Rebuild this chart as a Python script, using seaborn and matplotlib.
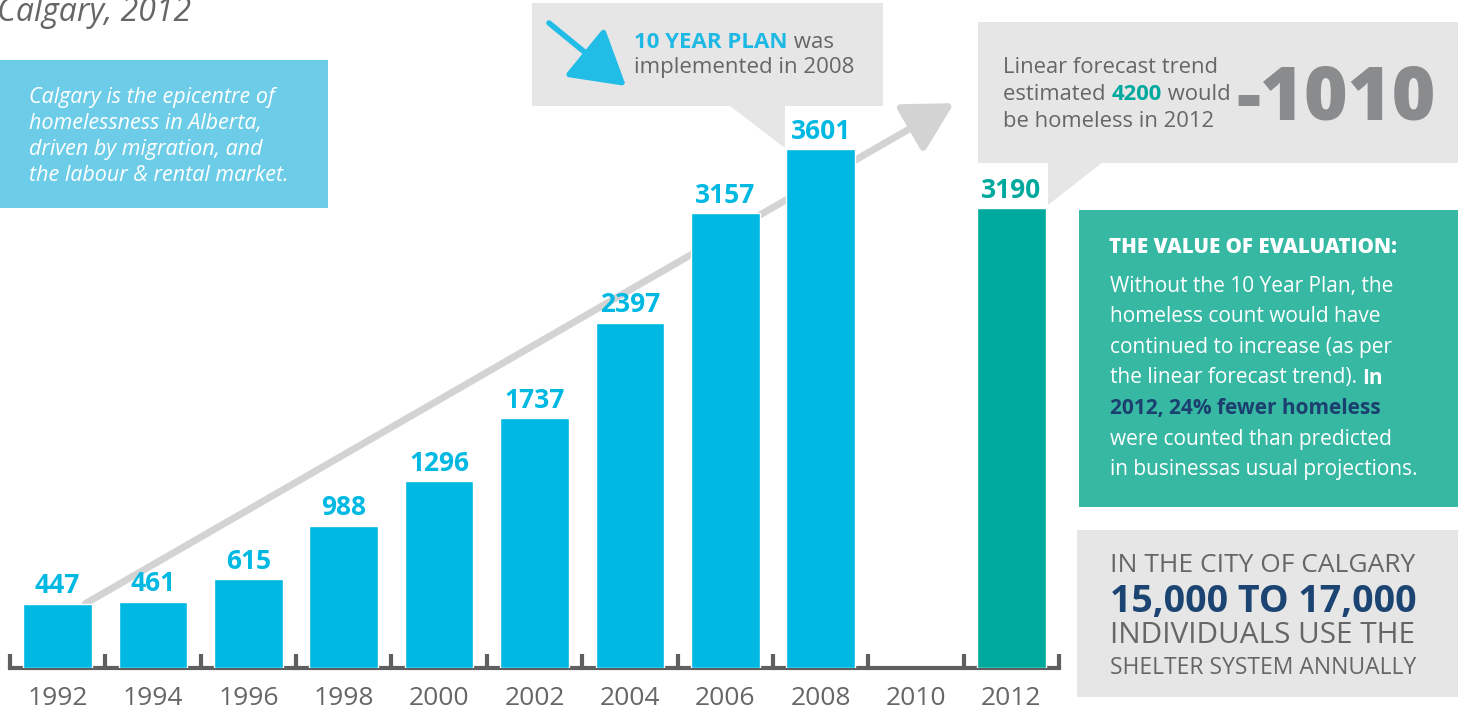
import numpy as np
import pandas as pd
import matplotlib.pyplot as plt
from matplotlib.patches import Rectangle, Polygon
import seaborn as sns

# Homeless counts, Calgary (2010: no count)
years = ['1992', '1994', '1996', '1998', '2000', '2002', '2004', '2006', '2008', '2010', '2012']
counts = [447, 461, 615, 988, 1296, 1737, 2397, 3157, 3601, None, 3190]
periods = ['before plan'] * 9 + [None, 'after plan']

# linear forecast trend arrow (x position on the year axis, count)
trend_start = (0.29, 447)
trend_end = (9.40, 3920)

BLUE = '#00B9E3'
TEAL = '#00A99D'
GREY_TXT = '#666666'
BOX_GREY = '#E6E6E6'
NAVY = '#1B4472'

sns.set_theme(style='white')
plt.rcParams['font.family'] = ['Open Sans', 'DejaVu Sans']

df = pd.DataFrame({'year': years, 'count': counts, 'period': periods}).dropna()

fig = plt.figure(figsize=(14.63, 7.11), dpi=100)
W, H = 1463, 711

# overlay in pixel coordinates for the text boxes
over = fig.add_axes([0, 0, 1, 1], zorder=0)
over.set_xlim(0, W)
over.set_ylim(H, 0)
over.axis('off')

ax = fig.add_axes([10 / W, 43 / H, 1049 / W, 668 / H], zorder=1)
ax.patch.set_alpha(0)

sns.barplot(data=df, x='year', y='count', order=years, hue='period',
            hue_order=['before plan', 'after plan'],
            palette={'before plan': BLUE, 'after plan': TEAL},
            dodge=False, width=0.72, saturation=1, legend=False, ax=ax, zorder=3)

for cont, col in zip(ax.containers, [BLUE, TEAL]):
    ax.bar_label(cont, fmt='%d', padding=3, fontsize=19, fontweight='bold', color=col, zorder=5)

# trend arrow behind the bars
ax.annotate('', xy=trend_end, xytext=trend_start,
            arrowprops=dict(arrowstyle='-|>,head_length=1.0,head_width=0.55',
                            mutation_scale=30, lw=5, color='#D3D3D3',
                            shrinkA=0, shrinkB=0), zorder=1)

ax.set_xlim(-0.5, 10.5)
ax.set_ylim(0, 4636)
ax.set_xlabel('')
ax.set_ylabel('')
ax.set_yticks([])
sns.despine(ax=ax, left=True)
ax.spines['bottom'].set_linewidth(3)
ax.spines['bottom'].set_color('#5F5F61')
ax.set_xticks(np.arange(-0.5, 11, 1), minor=True)
ax.tick_params(axis='x', which='minor', direction='in', length=10, width=3,
               color='#5F5F61', bottom=True)
ax.tick_params(axis='x', which='major', length=0, pad=13, labelsize=19,
               labelcolor=GREY_TXT)

renderer = fig.canvas.get_renderer()


def rich_line(x, y, parts, size):
    for s, weight, color in parts:
        t = over.text(x, y, s, fontsize=size, fontweight=weight, color=color,
                      va='baseline', ha='left')
        x += t.get_window_extent(renderer=renderer).width


# title (cut at top, as in the original)
over.text(-3, 21, 'Calgary, 2012', fontsize=23, style='italic', color=GREY_TXT,
          va='baseline', ha='left')

# left blue box
over.add_patch(Rectangle((0, 60), 328, 148, color='#6DCDE8', lw=0))
left_lines = ['Calgary is the epicentre of', 'homelessness in Alberta,',
              'driven by migration, and', 'the labour & rental market.']
for i, s in enumerate(left_lines):
    over.text(29, 103 + i * 26, s, fontsize=15.5, style='italic', color='white',
              va='baseline', ha='left')

# 10 year plan callout
over.add_patch(Rectangle((532, 3), 351, 103, color=BOX_GREY, lw=0))
over.add_patch(Polygon([(730, 106), (785, 106), (785, 148)], closed=True,
                       color=BOX_GREY, lw=0))
over.annotate('', xy=(626, 86), xytext=(549, 23),
              arrowprops=dict(arrowstyle='-|>,head_length=1.1,head_width=0.65',
                              mutation_scale=30, lw=4, color='#22BDE6',
                              shrinkA=0, shrinkB=0))
rich_line(634, 48, [('10 YEAR PLAN', 'bold', '#1DB8E4'), (' was', 'normal', GREY_TXT)], 16)
rich_line(634, 73, [('implemented in 2008', 'normal', GREY_TXT)], 16)

# forecast callout
over.add_patch(Rectangle((978, 22), 480, 141, color=BOX_GREY, lw=0))
over.add_patch(Polygon([(1048, 162), (1103, 162), (1048, 205)], closed=True,
                       color=BOX_GREY, lw=0))
rich_line(1003, 73, [('Linear forecast trend', 'normal', GREY_TXT)], 15.8)
rich_line(1003, 100, [('estimated ', 'normal', GREY_TXT), ('4200', 'bold', TEAL),
                      (' would', 'normal', GREY_TXT)], 15.8)
rich_line(1003, 127, [('be homeless in 2012', 'normal', GREY_TXT)], 15.8)
over.text(1436, 120, '-1010', fontsize=54, fontweight='heavy', color='#8A8B8D',
          va='baseline', ha='right')

# teal evaluation box
over.add_patch(Rectangle((1079, 210), 379, 297, color='#36B8A3', lw=0))
over.text(1109, 253, 'THE VALUE OF EVALUATION:', fontsize=14.8, fontweight='heavy',
          color='white', va='baseline', ha='left')
body = [[('Without the 10 Year Plan, the', 'normal', 'white')],
        [('homeless count would have', 'normal', 'white')],
        [('continued to increase (as per', 'normal', 'white')],
        [('the linear forecast trend). ', 'normal', 'white'), ('In', 'bold', 'white')],
        [('2012, 24% fewer homeless', 'bold', '#1B3F6E')],
        [('were counted than predicted', 'normal', 'white')],
        [('in businessas usual projections.', 'normal', 'white')]]
for i, parts in enumerate(body):
    rich_line(1110, 292 + i * 30.5, parts, 15)

# shelter box
over.add_patch(Rectangle((1077, 530), 381, 167, color=BOX_GREY, lw=0))
over.text(1110, 572, 'IN THE CITY OF CALGARY', fontsize=19, color=GREY_TXT,
          va='baseline', ha='left')
over.text(1110, 612, '15,000 TO 17,000', fontsize=27, fontweight='bold', color=NAVY,
          va='baseline', ha='left')
over.text(1110, 643, 'INDIVIDUALS USE THE', fontsize=21.4, color=GREY_TXT,
          va='baseline', ha='left')
over.text(1110, 674, 'SHELTER SYSTEM ANNUALLY', fontsize=16.5, color=GREY_TXT,
          va='baseline', ha='left')

fig.savefig('out.png', dpi=100)
